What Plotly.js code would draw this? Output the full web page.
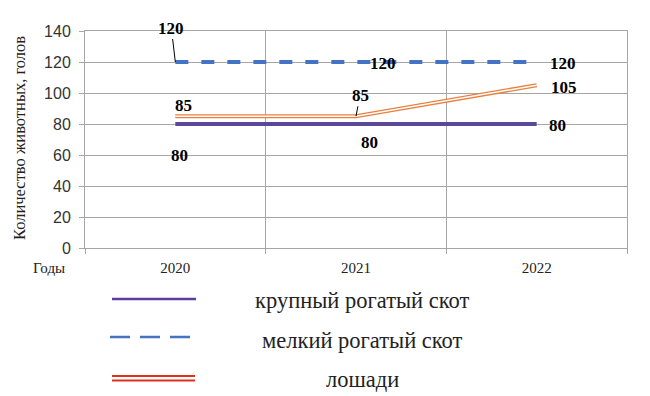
<!DOCTYPE html>
<html>
<head>
<meta charset="utf-8">
<script src="https://cdn.plot.ly/plotly-3.0.1.min.js"></script>
<style>html,body{margin:0;padding:0;background:#fff;}#chart{width:650px;height:396px;}</style>
</head>
<body>
<div id="chart"></div>
<script>
const years = ['2020', '2021', '2022'];
const cattle = [80, 80, 80];
const smallCattle = [120, 120, 120];
const horses = [85, 85, 105];
const seriesNames = ['крупный рогатый скот', 'мелкий рогатый скот', 'лошади'];
const yTicks = [0, 20, 40, 60, 80, 100, 120, 140];
const yTitle = 'Количество животных, голов';
const xLabel = 'Годы';

const serif = 'Liberation Serif, Times New Roman, serif';
const sans = 'Liberation Sans, Arial, sans-serif';

const traces = [
  {x: years, y: cattle, type: 'scatter', mode: 'lines', line: {color: '#5B4797', width: 4}, hoverinfo: 'skip'},
  {x: years, y: smallCattle, type: 'scatter', mode: 'lines', line: {color: '#4472C4', width: 4, dash: '13px,13px'}, hoverinfo: 'skip'},
  {x: years, y: horses, type: 'scatter', mode: 'lines', line: {color: '#E8803E', width: 4.2}, hoverinfo: 'skip'},
  {x: years, y: horses, type: 'scatter', mode: 'lines', line: {color: '#ffffff', width: 1.4}, hoverinfo: 'skip'}
];

// label offsets (pixels) per series & point: [dx, dy, leader line]
const offs = {
  cattle: [[4, 31, false], [13, 18, false], [21, 1, false]],
  small: [[-4, -34, true], [27, 1, false], [26, 1, false]],
  horses: [[8, -11, false], [4, -21, true], [27, 2, false]]
};
const annotations = [];
function addLabels(vals, o) {
  vals.forEach((v, i) => {
    annotations.push({
      x: i, y: v, xref: 'x', yref: 'y', text: String(v),
      showarrow: true, ax: o[i][0], ay: o[i][1],
      arrowhead: 0, arrowwidth: 1, arrowcolor: o[i][2] ? '#000' : 'rgba(0,0,0,0)',
      standoff: 0,
      font: {family: serif, size: 17, color: '#000', weight: 'bold'}
    });
  });
}
addLabels(cattle, offs.cattle);
addLabels(smallCattle, offs.small);
addLabels(horses, offs.horses);

function px(x) { return (x - 85) / 542; }
function py(y) { return (248 - y) / 217; }

annotations.push({xref: 'paper', yref: 'paper', x: px(19), y: py(138), text: yTitle, textangle: -90,
  showarrow: false, font: {family: serif, size: 16.5, color: '#222'}, xanchor: 'center', yanchor: 'middle'});
annotations.push({xref: 'paper', yref: 'paper', x: px(49), y: py(268), text: xLabel,
  showarrow: false, font: {family: serif, size: 15, color: '#222'}, xanchor: 'center', yanchor: 'middle'});

const legY = [300, 340, 379];
seriesNames.forEach((n, i) => {
  annotations.push({xref: 'paper', yref: 'paper', x: px(362), y: py(legY[i]), text: n,
    showarrow: false, font: {family: serif, size: 22.5, color: '#222'}, xanchor: 'center', yanchor: 'middle'});
});

const shapes = [
  {type: 'line', xref: 'paper', yref: 'paper', x0: px(112), x1: px(196), y0: py(299), y1: py(299), line: {color: '#5B3F9A', width: 2.5}},
  {type: 'line', xref: 'paper', yref: 'paper', x0: px(110), x1: px(192), y0: py(337), y1: py(337), line: {color: '#4472C4', width: 2.5, dash: '20px,10px'}},
  {type: 'line', xref: 'paper', yref: 'paper', x0: px(112), x1: px(195), y0: py(376), y1: py(376), line: {color: '#E03020', width: 2}},
  {type: 'line', xref: 'paper', yref: 'paper', x0: px(112), x1: px(195), y0: py(380.5), y1: py(380.5), line: {color: '#E03020', width: 2}}
];

const layout = {
  width: 650, height: 396,
  margin: {l: 85, r: 23, t: 31, b: 148, pad: 0},
  paper_bgcolor: '#fff', plot_bgcolor: '#fff',
  showlegend: false,
  xaxis: {
    type: 'category', range: [-0.5, 2.5], tickson: 'boundaries',
    showgrid: true, gridcolor: '#A6A6A6', gridwidth: 1,
    showline: true, linecolor: '#A6A6A6', linewidth: 1, mirror: true,
    ticks: 'outside', ticklen: 5, tickcolor: '#A6A6A6',
    tickfont: {family: serif, size: 15, color: '#222'},
    ticklabelstandoff: 6,
    fixedrange: true
  },
  yaxis: {
    range: [0, 140], tickvals: yTicks, ticktext: yTicks.map(String),
    showgrid: true, gridcolor: '#A6A6A6', gridwidth: 1,
    showline: true, linecolor: '#A6A6A6', linewidth: 1, mirror: true,
    ticks: 'outside', ticklen: 5, tickcolor: '#A6A6A6',
    tickfont: {family: sans, size: 16, color: '#333'},
    ticklabelstandoff: 5,
    zeroline: false, fixedrange: true
  },
  annotations: annotations,
  shapes: shapes
};

Plotly.newPlot('chart', traces, layout, {displayModeBar: false, staticPlot: true});
</script>
</body>
</html>
